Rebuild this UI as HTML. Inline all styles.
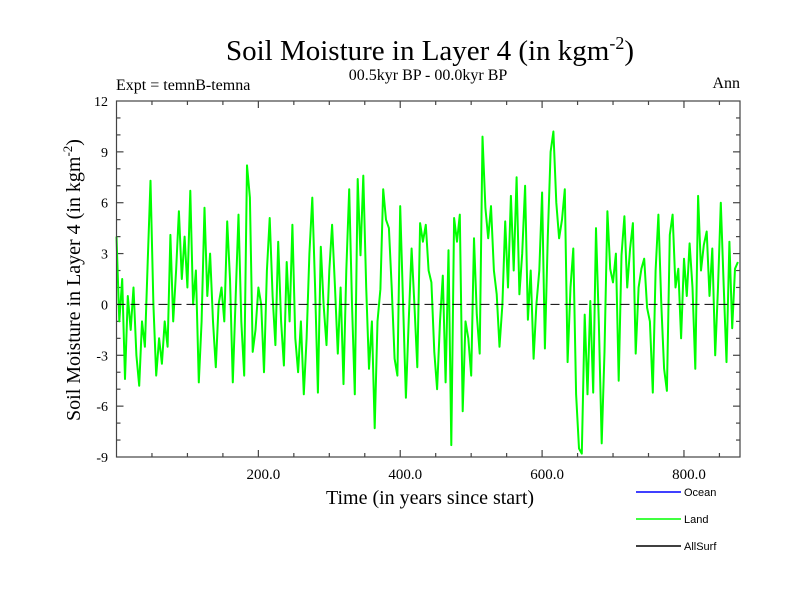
<!DOCTYPE html>
<html><head><meta charset="utf-8"><style>
body{margin:0;background:#fff;}
svg text{font-family:"Liberation Serif",serif;}
</style></head><body>
<svg id="chart" width="800" height="600" xmlns="http://www.w3.org/2000/svg">
<text x="430" y="60" text-anchor="middle" font-size="29">Soil Moisture in Layer 4 (in kgm<tspan dy="-11" font-size="18">-2</tspan><tspan dy="11">)</tspan></text>
<text x="428" y="80" text-anchor="middle" font-size="16">00.5kyr BP - 00.0kyr BP</text>
<text x="116" y="90" font-size="16">Expt = temnB-temna</text>
<text x="740" y="88" text-anchor="end" font-size="16">Ann</text>
<text transform="translate(80,280) rotate(-90)" text-anchor="middle" font-size="20">Soil Moisture in Layer 4 (in kgm<tspan dy="-8" font-size="13">-2</tspan><tspan dy="8">)</tspan></text>
<text x="430" y="504" text-anchor="middle" font-size="20">Time (in years since start)</text>
<g id="axes"></g>
<g id="series"></g>
<rect x="116.5" y="101" width="623.5" height="356" fill="none" stroke="#444" stroke-width="1.2"/>
<g>
<line x1="636" y1="492" x2="681" y2="492" stroke="#0000ff" stroke-width="1.5"/>
<text x="684" y="496" font-size="11" style="font-family:'Liberation Sans',sans-serif">Ocean</text>
<line x1="636" y1="519" x2="681" y2="519" stroke="#00ff00" stroke-width="1.5"/>
<text x="684" y="523" font-size="11" style="font-family:'Liberation Sans',sans-serif">Land</text>
<line x1="636" y1="546" x2="681" y2="546" stroke="#000" stroke-width="1.5"/>
<text x="684" y="550" font-size="11" style="font-family:'Liberation Sans',sans-serif">AllSurf</text>
</g>
</svg>
<script>
const startYear = 0;
const yearStep = 4;
const landValues = [4,-1,1.5,-4.4,0.5,-1.5,1,-3,-4.8,-1,-2.5,2.5,7.3,0,-4.2,-2,-3.5,-1,-2.5,4.1,-1,2,5.5,1.5,4,1,6.7,0,2,-4.6,-1,5.7,0.5,3,-1,-3.7,0,1,-1,4.9,1.5,-4.6,0.5,5.3,-1,-4.2,8.2,6.3,-2.8,-1.5,1,0,-4,2,5.1,0.5,-2.4,3.7,-1,-3.6,2.5,-1,4.7,-2,-4,-1,-5.3,-2,3,6.3,1,-5.2,3.4,0,-2.4,2,4.7,1,-2.9,1,-4.7,2,6.8,0,-5.3,7.4,2.9,7.6,1,-3.8,-1,-7.3,-1,0.9,6.8,5,4.5,1,-3.2,-4.2,5.8,0,-5.5,-1,3.3,0,-3.7,4.8,3.7,4.7,2,1.3,-2.8,-5,-1,1.7,-4.6,3.2,-8.3,5.1,3.7,5.3,-6.3,-1,-2,-4.2,3.9,-0.6,-2.9,9.9,5.7,3.9,5.8,2,0.6,-2.5,0,4.9,1,6.4,2,7.5,0.6,3,7,-0.9,2,-3.2,0,2,6.6,-2.6,4,9,10.2,6,3.9,5,6.8,-3.4,1,3.3,-5.3,-8.5,-8.8,-0.6,-5.3,0.2,-5.2,4.5,-1,-8.2,-2.8,5.5,2.1,1.3,3,-4.5,2.9,5.2,1,3.3,4.8,-2.9,1,2.1,2.7,-0.2,-1,-5.2,2,5.3,0,-3.8,-5.1,4.1,5.3,1,2.1,-2,2.7,0.5,3.6,1,-3.8,6.4,2,3.5,4.3,0.5,3.3,-3,1,6,1.1,-3.4,3.7,-1.4,2.1,2.5];
const xTickLabels = ["200.0","400.0","600.0","800.0"];
const xTickValues = [200,400,600,800];
const yTickValues = [-9,-6,-3,0,3,6,9,12];

const X0=116.5,X1=740,Y0=457,Y1=101, XMIN=0, XMAX=879, YMIN=-9, YMAX=12;
const xs=v=>X0+(v-XMIN)/(XMAX-XMIN)*(X1-X0);
const ys=v=>Y0-(v-YMIN)/(YMAX-YMIN)*(Y0-Y1);
const NS="http://www.w3.org/2000/svg";
const axes=document.getElementById('axes'), ser=document.getElementById('series');
function mk(tag,attrs,parent){const e=document.createElementNS(NS,tag);for(const k in attrs)e.setAttribute(k,attrs[k]);parent.appendChild(e);return e;}
for(let v=YMIN+1;v<YMAX;v++){
  const major=v%3===0, len=major?7:4, y=ys(v);
  const t1=mk('line',{x1:X0,x2:X0+len,y1:y,y2:y,stroke:'#444','stroke-width':1.2},axes);
  
  
  const t2=mk('line',{x1:X1-len,x2:X1,y1:y,y2:y,stroke:'#444','stroke-width':1.2},axes);
  
  
}
yTickValues.forEach(v=>{
  const t=mk('text',{x:108,y:ys(v)+5,'text-anchor':'end','font-size':14},axes);
  t.textContent=String(v);
  
  
});
for(let v=50;v<XMAX;v+=50){
  const major=v%200===0, len=major?7:4, x=xs(v);
  const t1=mk('line',{x1:x,x2:x,y1:Y0,y2:Y0-len,stroke:'#444','stroke-width':1.2},axes);
  
  
  const t2=mk('line',{x1:x,x2:x,y1:Y1,y2:Y1+len,stroke:'#444','stroke-width':1.2},axes);
  
  
}
xTickValues.forEach((v,i)=>{
  const t=mk('text',{x:xs(v)+5,y:479,'text-anchor':'middle','font-size':15},axes);
  t.textContent=xTickLabels[i];
  
  
});
const pts=landValues.map((v,i)=>xs(startYear+i*yearStep).toFixed(1)+','+ys(v).toFixed(1)).join(' ');
const pl=mk('polyline',{points:pts,fill:'none',stroke:'#00ff00','stroke-width':2,'stroke-linejoin':'round'},ser);


const z=mk('line',{x1:X0,x2:X1,y1:ys(0),y2:ys(0),stroke:'#000','stroke-width':1,'stroke-dasharray':'9,5'},ser);


</script>
</body></html>
